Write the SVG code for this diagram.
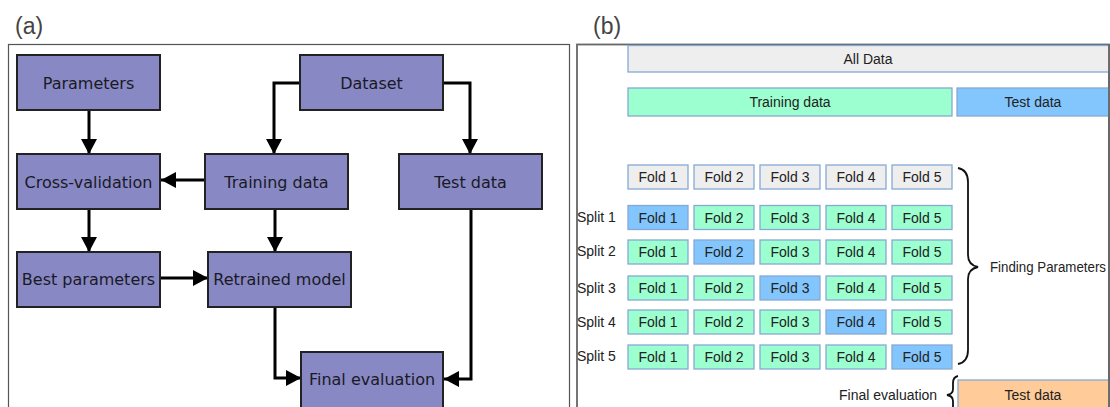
<svg xmlns="http://www.w3.org/2000/svg" width="1110" height="407" viewBox="0 0 1110 407">
<style>
.frame{fill:none;stroke:#555;stroke-width:1.2}
.node rect{fill:#8888c4;stroke:#222;stroke-width:2}
.node text{font-family:"DejaVu Sans",sans-serif;font-size:16px;fill:#1a1a26;text-anchor:middle}
.conn path{fill:none;stroke:#000;stroke-width:3;marker-end:url(#ah)}
.lbl{font-family:"Liberation Sans",Arial,sans-serif;font-size:23px;fill:#444}
.b rect{stroke:#86a9d6;stroke-width:1.3}
.b text,.t{font-family:"Liberation Sans",Arial,sans-serif;font-size:14px;fill:#222;text-anchor:middle}
.t{text-anchor:start}
.g{fill:#eeeeee}
.m{fill:#9cffd0}
.u{fill:#82c6fd}
.o{fill:#ffcc99}
.brace{fill:none;stroke:#111;stroke-width:1.8}
</style>
<defs>
<marker id="ah" markerUnits="userSpaceOnUse" markerWidth="16" markerHeight="16" viewBox="0 0 16 16" refX="15" refY="8" orient="auto">
<path d="M0,0 L15,8 L0,16 Z" fill="#000"/>
</marker>
</defs>
<rect width="1110" height="407" fill="#fff"/>
<text class="lbl" x="15" y="34">(a)</text>
<text class="lbl" x="593" y="34">(b)</text>
<rect class="frame" x="8.5" y="44.5" width="561" height="380"/>
<rect class="frame" x="577" y="44.5" width="532" height="380" style="stroke-width:1.8;stroke:#666"/>

<g id="connectors" class="conn">
<path d="M89,110 V154"/>
<path d="M205,180 H161"/>
<path d="M300,83 H274 V154"/>
<path d="M443,83 H470 V154"/>
<path d="M89,209 V252"/>
<path d="M275,209 V252"/>
<path d="M160,278 H208"/>
<path d="M275,307 V378 H301"/>
<path d="M471,209 V379 H444"/>
</g>

<g id="parameters" class="node"><rect x="17" y="55" width="143" height="55"/><text x="88.5" y="89">Parameters</text></g>
<g id="dataset" class="node"><rect x="300" y="55" width="143" height="55"/><text x="371.5" y="89">Dataset</text></g>
<g id="cross-validation" class="node"><rect x="17" y="154" width="143" height="55"/><text x="88.5" y="187.5">Cross-validation</text></g>
<g id="training-data" class="node"><rect x="205" y="154" width="143" height="55"/><text x="276.5" y="187.5">Training data</text></g>
<g id="test-data" class="node"><rect x="399" y="154" width="143" height="55"/><text x="470.5" y="187.5">Test data</text></g>
<g id="best-parameters" class="node"><rect x="17" y="252" width="143" height="55"/><text x="88.5" y="285">Best parameters</text></g>
<g id="retrained-model" class="node"><rect x="208" y="252" width="143" height="55"/><text x="279.5" y="285">Retrained model</text></g>
<g id="final-evaluation" class="node"><rect x="301" y="352" width="142" height="60"/><text x="372" y="385">Final evaluation</text></g>

<g id="all-data" class="b"><rect class="g" x="628" y="45.5" width="481" height="26.5"/><text x="868" y="63.5">All Data</text></g>
<g id="b-training" class="b"><rect class="m" x="628" y="88" width="324" height="28"/><text x="790" y="107">Training data</text></g>
<g id="b-test" class="b"><rect class="u" x="957" y="88" width="152" height="28"/><text x="1033" y="107">Test data</text></g>

<g id="folds-header" class="b">
<rect class="g" x="628" y="165" width="60" height="24"/><text x="658" y="182">Fold 1</text>
<rect class="g" x="694" y="165" width="60" height="24"/><text x="724" y="182">Fold 2</text>
<rect class="g" x="760" y="165" width="60" height="24"/><text x="790" y="182">Fold 3</text>
<rect class="g" x="826" y="165" width="60" height="24"/><text x="856" y="182">Fold 4</text>
<rect class="g" x="892" y="165" width="60" height="24"/><text x="922" y="182">Fold 5</text>
</g>
<g id="split-1" class="b">
<rect class="u" x="628" y="205.5" width="60" height="24"/><text x="658" y="222.5">Fold 1</text>
<rect class="m" x="694" y="205.5" width="60" height="24"/><text x="724" y="222.5">Fold 2</text>
<rect class="m" x="760" y="205.5" width="60" height="24"/><text x="790" y="222.5">Fold 3</text>
<rect class="m" x="826" y="205.5" width="60" height="24"/><text x="856" y="222.5">Fold 4</text>
<rect class="m" x="892" y="205.5" width="60" height="24"/><text x="922" y="222.5">Fold 5</text>
</g>
<g id="split-2" class="b">
<rect class="m" x="628" y="240" width="60" height="24"/><text x="658" y="257">Fold 1</text>
<rect class="u" x="694" y="240" width="60" height="24"/><text x="724" y="257">Fold 2</text>
<rect class="m" x="760" y="240" width="60" height="24"/><text x="790" y="257">Fold 3</text>
<rect class="m" x="826" y="240" width="60" height="24"/><text x="856" y="257">Fold 4</text>
<rect class="m" x="892" y="240" width="60" height="24"/><text x="922" y="257">Fold 5</text>
</g>
<g id="split-3" class="b">
<rect class="m" x="628" y="276" width="60" height="24"/><text x="658" y="293">Fold 1</text>
<rect class="m" x="694" y="276" width="60" height="24"/><text x="724" y="293">Fold 2</text>
<rect class="u" x="760" y="276" width="60" height="24"/><text x="790" y="293">Fold 3</text>
<rect class="m" x="826" y="276" width="60" height="24"/><text x="856" y="293">Fold 4</text>
<rect class="m" x="892" y="276" width="60" height="24"/><text x="922" y="293">Fold 5</text>
</g>
<g id="split-4" class="b">
<rect class="m" x="628" y="310" width="60" height="24"/><text x="658" y="327">Fold 1</text>
<rect class="m" x="694" y="310" width="60" height="24"/><text x="724" y="327">Fold 2</text>
<rect class="m" x="760" y="310" width="60" height="24"/><text x="790" y="327">Fold 3</text>
<rect class="u" x="826" y="310" width="60" height="24"/><text x="856" y="327">Fold 4</text>
<rect class="m" x="892" y="310" width="60" height="24"/><text x="922" y="327">Fold 5</text>
</g>
<g id="split-5" class="b">
<rect class="m" x="628" y="345" width="60" height="24"/><text x="658" y="362">Fold 1</text>
<rect class="m" x="694" y="345" width="60" height="24"/><text x="724" y="362">Fold 2</text>
<rect class="m" x="760" y="345" width="60" height="24"/><text x="790" y="362">Fold 3</text>
<rect class="m" x="826" y="345" width="60" height="24"/><text x="856" y="362">Fold 4</text>
<rect class="u" x="892" y="345" width="60" height="24"/><text x="922" y="362">Fold 5</text>
</g>
<g id="split-labels">
<text class="t" x="577" y="222">Split 1</text>
<text class="t" x="577" y="256">Split 2</text>
<text class="t" x="577" y="292.5">Split 3</text>
<text class="t" x="577" y="326.5">Split 4</text>
<text class="t" x="577" y="361">Split 5</text>
</g>
<g id="finding-parameters">
<path class="brace" d="M958,168 Q968,170 968,182 V255 Q968,265 978,267 Q968,269 968,279 V350 Q968,362 958,364"/>
<text class="t" x="990" y="272" textLength="116" lengthAdjust="spacingAndGlyphs">Finding Parameters</text>
</g>
<g id="final-eval-b">
<path class="brace" d="M958,376 Q953,377 953,383 V389 Q953,394 947,395 Q953,396 953,401 V410"/>
<text class="t" x="839" y="400">Final evaluation</text>
</g>
<g id="b-test-final" class="b"><rect class="o" x="958" y="380" width="151" height="35"/><text x="1033" y="399.5">Test data</text></g>
<line x1="1109" y1="44" x2="1109" y2="407" stroke="#666" stroke-width="1.8"/>
</svg>
